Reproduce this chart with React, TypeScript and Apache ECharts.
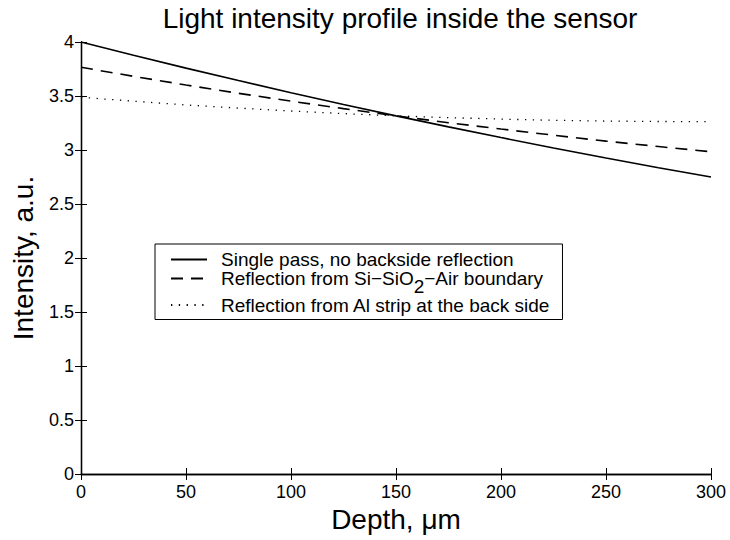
import React, { useEffect, useRef } from "react";
import * as echarts from "echarts";

const depth = [0, 25, 50, 75, 100, 125, 150, 175, 200, 225, 250, 275, 300];
const singlePass = [4.0, 3.877, 3.758, 3.643, 3.53, 3.421, 3.316, 3.214, 3.115, 3.019, 2.926, 2.836, 2.75];
const siAirReflection = [3.766, 3.682, 3.602, 3.525, 3.452, 3.383, 3.316, 3.253, 3.194, 3.137, 3.082, 3.032, 2.984];
const alStripReflection = [3.488, 3.452, 3.417, 3.388, 3.361, 3.337, 3.316, 3.3, 3.286, 3.275, 3.268, 3.264, 3.262];
const seriesNames = [
  "Single pass, no backside reflection",
  "Reflection from Si−SiO2−Air boundary",
  "Reflection from Al strip at the back side",
];
const legendLabels = [
  "Single pass, no backside reflection",
  "Reflection from Si−SiO{sub|2}−Air boundary",
  "Reflection from Al strip at the back side",
];

const FONT = "Liberation Sans, Arial, Helvetica, sans-serif";

export default function App() {
  const ref = useRef<HTMLDivElement>(null);
  useEffect(() => {
    if (!ref.current) return;
    const chart = echarts.init(ref.current, undefined, { renderer: "svg" });
    const mk = (vals: number[]) => depth.map((d, i) => [d, vals[i]]);
    const tick = { show: true, inside: true, length: 6, lineStyle: { color: "#000", width: 1 } };
    const axLine = { show: true, lineStyle: { color: "#000", width: 1.3 } };
    chart.setOption({
      animation: false,
      backgroundColor: "#fff",
      title: {
        text: "Light intensity profile inside the sensor",
        left: 395,
        textAlign: "center",
        top: -1,
        textStyle: { fontFamily: FONT, fontSize: 28, fontWeight: "normal", color: "#000" },
      },
      grid: { left: 81, right: 19, top: 42, bottom: 66, containLabel: false },
      xAxis: [
        {
          type: "value",
          min: 0,
          max: 300,
          interval: 50,
          name: "Depth, μm",
          nameLocation: "middle",
          nameGap: 30,
          nameTextStyle: { fontFamily: FONT, fontSize: 28, color: "#000" },
          axisLine: axLine,
          axisTick: tick,
          axisLabel: { fontFamily: FONT, fontSize: 18, color: "#000", margin: 9 },
          splitLine: { show: false },
        },
        {
          type: "value",
          position: "top",
          min: 0,
          max: 300,
          interval: 50,
          axisLine: axLine,
          axisTick: tick,
          axisLabel: { show: false },
          splitLine: { show: false },
        },
      ],
      yAxis: [
        {
          type: "value",
          min: 0,
          max: 4,
          interval: 0.5,
          name: "Intensity, a.u.",
          nameLocation: "middle",
          nameGap: 44,
          nameTextStyle: { fontFamily: FONT, fontSize: 28, color: "#000" },
          axisLine: axLine,
          axisTick: tick,
          axisLabel: { fontFamily: FONT, fontSize: 18, color: "#000", margin: 7 },
          splitLine: { show: false },
        },
        {
          type: "value",
          position: "right",
          min: 0,
          max: 4,
          interval: 0.5,
          axisLine: axLine,
          axisTick: tick,
          axisLabel: { show: false },
          splitLine: { show: false },
        },
      ],
      legend: {
        orient: "vertical",
        left: 155,
        top: 244,
        backgroundColor: "#fff",
        borderColor: "#000",
        borderWidth: 1,
        borderRadius: 0,
        padding: [6, 12, 5, 15],
        itemWidth: 36,
        itemHeight: 4,
        itemGap: 0,
        data: seriesNames,
        itemStyle: { color: "rgba(0,0,0,0)", borderColor: "rgba(0,0,0,0)", borderWidth: 0 },
        formatter: (name: string) => legendLabels[seriesNames.indexOf(name)],
        textStyle: {
          fontFamily: FONT,
          fontSize: 19,
          color: "#000",
          padding: [0, 0, 0, 9],
          rich: {
            sub: { fontFamily: FONT, fontSize: 19, color: "#000", verticalAlign: "top", padding: [15, 0, 0, 0] },
          },
        },
      },
      series: [
        {
          name: seriesNames[0],
          type: "line",
          data: mk(singlePass),
          symbol: "none",
          lineStyle: { color: "#000", width: 1.6, type: "solid" },
          itemStyle: { color: "#000" },
        },
        {
          name: seriesNames[1],
          type: "line",
          data: mk(siAirReflection),
          symbol: "none",
          lineStyle: { color: "#000", width: 1.6, type: [12, 8] },
          itemStyle: { color: "#000" },
        },
        {
          name: seriesNames[2],
          type: "line",
          data: mk(alStripReflection),
          symbol: "none",
          lineStyle: { color: "#000", width: 1.3, type: [1.3, 6.5] },
          itemStyle: { color: "#000" },
        },
      ],
    });
    return () => chart.dispose();
  }, []);
  return <div ref={ref} style={{ width: 730, height: 540, position: "absolute", left: 0, top: 0 }} />;
}
